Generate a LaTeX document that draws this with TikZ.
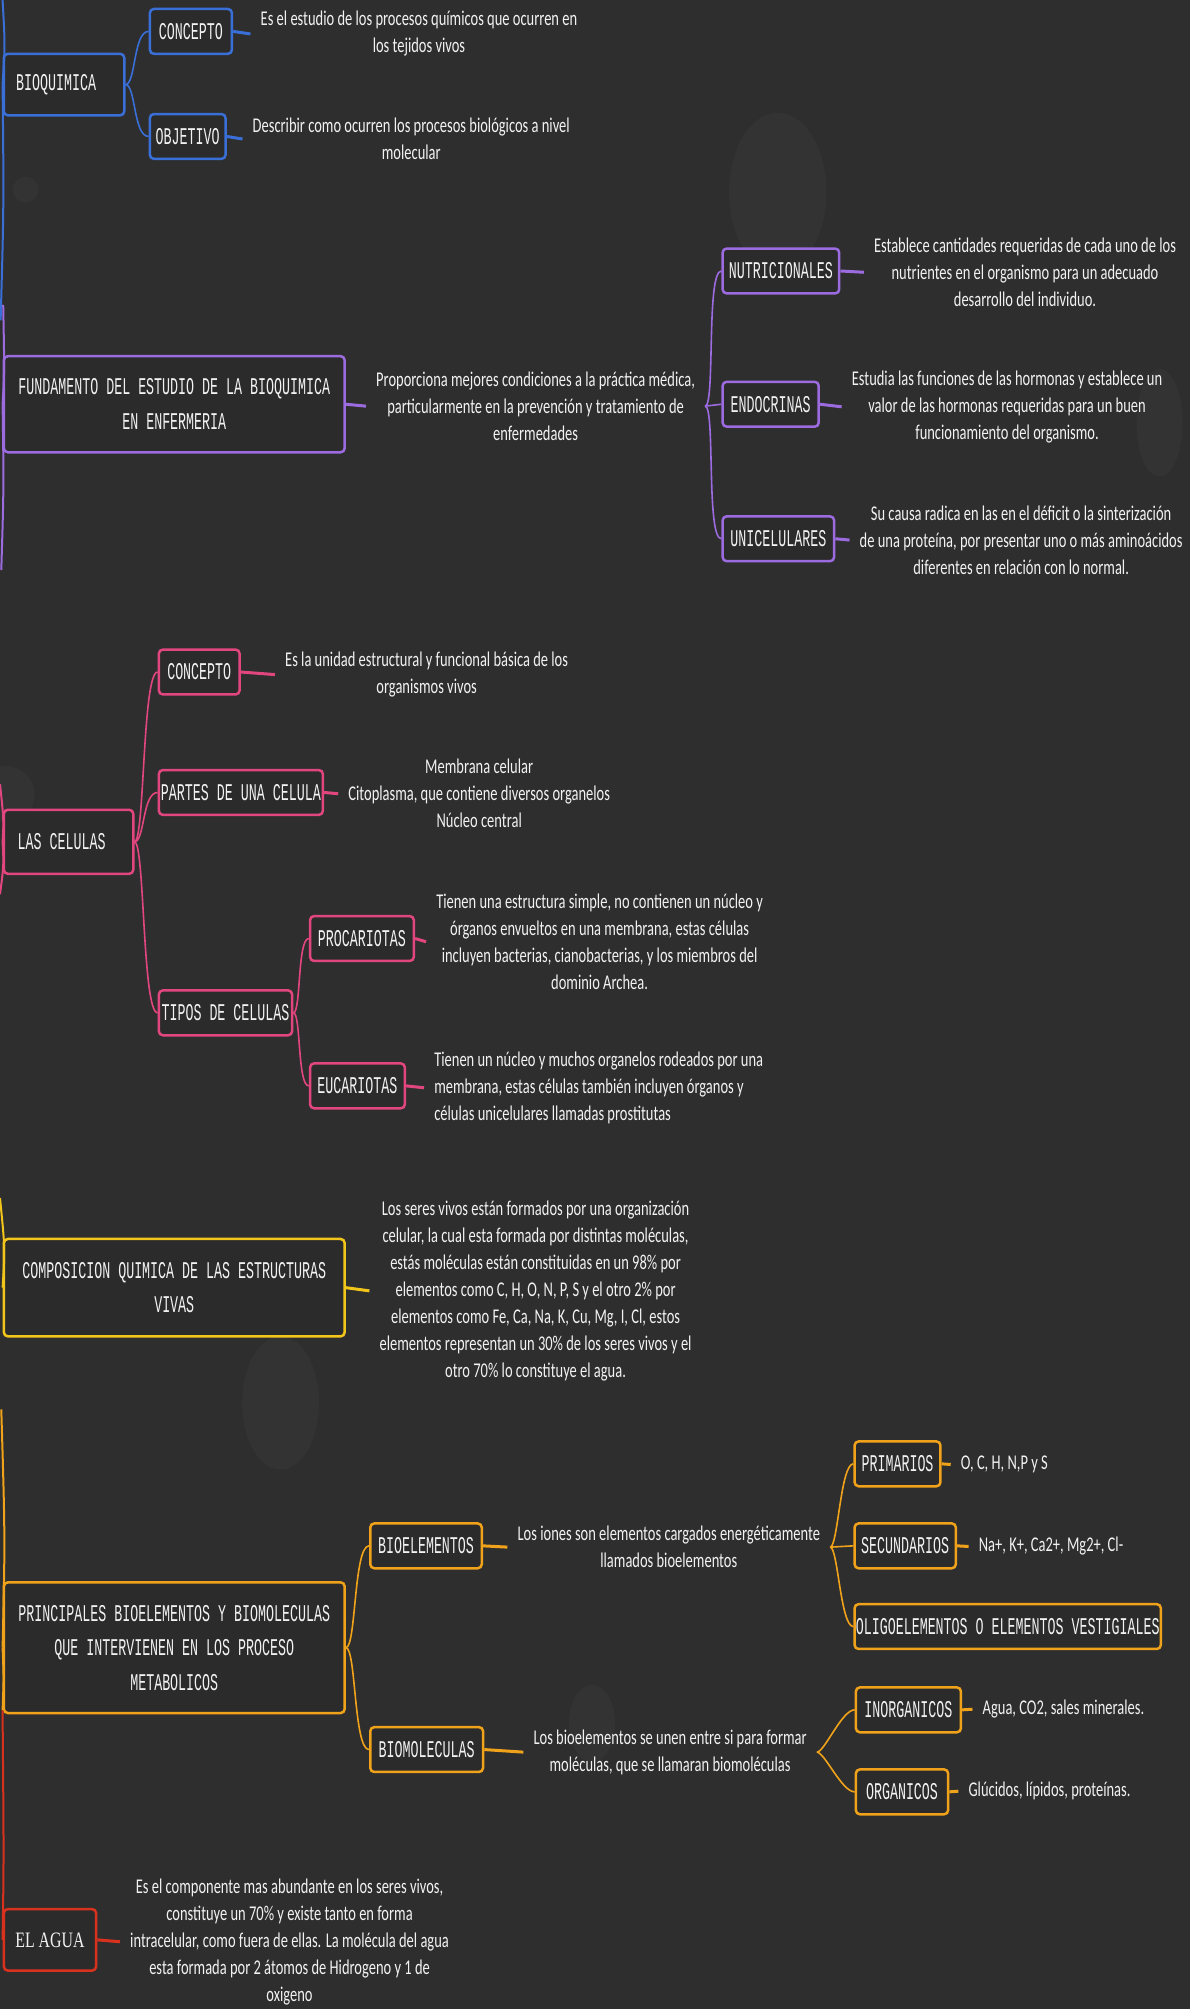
\documentclass[tikz,border=0pt]{standalone}
\usepackage{fontspec}
\setmainfont{Carlito}
\newfontfamily\descfont[FakeStretch=0.69]{Carlito}
\newfontfamily\boxfont[FakeStretch=0.555]{Liberation Mono}
\newfontfamily\serffont[FakeStretch=0.72]{Liberation Serif}
\definecolor{bgc}{HTML}{2E2E2E}
\definecolor{boxbg}{HTML}{2B2B2B}
\definecolor{blobc}{HTML}{333333}
\definecolor{cblue}{HTML}{3A6FD8}
\definecolor{cpurp}{HTML}{9C6BE0}
\definecolor{cpink}{HTML}{E2467E}
\definecolor{cyell}{HTML}{F2C51B}
\definecolor{corng}{HTML}{F0A21A}
\definecolor{cred}{HTML}{D8321F}
\definecolor{txt}{HTML}{F2F2F2}
\newcommand\bx[7]{%
  \pgfmathsetmacro\bxw{(#5-#3)*1.281}%
  \pgfmathsetmacro\bxh{(#6-#4)*1.281}%
  \node[#2, minimum width=\bxw pt, minimum height=\bxh pt] (#1) at ({(#3+#5)/2},{(#4+#6)/2}) {#7};}
\tikzset{
  box/.style={draw, line width=2.5pt, rounded corners=4pt, fill=boxbg, text=txt,
    font=\boxfont\fontsize{24}{34.6}\selectfont, align=center, inner sep=0pt},
  desc/.style={text=txt, font=\descfont\fontsize{21}{27}\selectfont, align=center,
    inner xsep=10pt, inner ysep=0pt},
  stub/.style={line width=3pt},
  br/.style={line width=1.6pt},
  trunk/.style={line width=2pt},
  blob/.style={fill=blobc}
}
\begin{document}
\begin{tikzpicture}[x=1.281pt,y=-1.281pt]
\fill[bgc] (0,0) rectangle (929,1568);
\useasboundingbox (0,0) rectangle (929,1568);
% faint background shapes
\fill[blob] (607,150) ellipse [x radius=38, y radius=62];
\fill[blob] (20,148) circle [radius=10];
\fill[blob] (905,330) ellipse [x radius=18, y radius=42];
\fill[blob] (5,620) circle [radius=22];
\fill[blob] (219,1095) ellipse [x radius=30, y radius=52];
\fill[blob] (44,1300) ellipse [x radius=18, y radius=30];
\fill[blob] (462,1345) ellipse [x radius=18, y radius=30];

% ---------- trunk coordinates ----------
\coordinate (tb0) at (2,0);
\coordinate (tb1) at (0.5,250);
\coordinate (tp0) at (2.5,238);
\coordinate (tp1) at (1,445);
\coordinate (tk0) at (0,612);
\coordinate (tk1) at (0,698);
\coordinate (ty0) at (0,935);
\coordinate (to0) at (1,1100);
\coordinate (to1) at (2,1335);

% ---------- BIOQUIMICA ----------
\bx{bio}{box,draw=cblue}{3}{42}{97}{90}{BIOQUIMICA\hspace*{16pt}}
\bx{bioc}{box,draw=cblue}{117}{7}{181}{42}{CONCEPTO}
\bx{bioo}{box,draw=cblue}{117}{89}{176}{124}{OBJETIVO}
\node[desc] (bioct) at (327,26.5) {Es el estudio de los procesos químicos que ocurren en\\los tejidos vivos};
\node[desc] (bioot) at (321,108.5) {Describir como ocurren los procesos biológicos a nivel\\molecular};
\draw[br,cblue] (bio.east) .. controls +(8,0) and +(-12,0) .. (bioc.west);
\draw[br,cblue] (bio.east) .. controls +(8,0) and +(-12,0) .. (bioo.west);
\draw[stub,cblue] (bioc.east) -- (bioct.west);
\draw[stub,cblue] (bioo.east) -- (bioot.west);

% ---------- FUNDAMENTO ----------
\bx{fund}{box,draw=cpurp}{3}{278}{269}{353}{FUNDAMENTO DEL ESTUDIO DE LA BIOQUIMICA\\EN ENFERMERIA}
\node[desc] (fundt) at (418,317) {Proporciona mejores condiciones a la práctica médica,\\particularmente en la prevención y tratamiento de\\enfermedades};
\draw[stub,cpurp] (fund.east) -- (fundt.west);
\bx{nut}{box,draw=cpurp}{564}{194}{655}{229}{NUTRICIONALES}
\bx{endo}{box,draw=cpurp}{564}{298}{639}{333}{ENDOCRINAS}
\bx{uni}{box,draw=cpurp}{564}{403}{651}{438}{UNICELULARES}
\draw[br,cpurp] (fundt.east) .. controls +(8,0) and +(-12,0) .. (nut.west);
\draw[br,cpurp] (fundt.east) -- (endo.west);
\draw[br,cpurp] (fundt.east) .. controls +(8,0) and +(-12,0) .. (uni.west);
\node[desc] (nutt) at (800,212.5) {Establece cantidades requeridas de cada uno de los\\nutrientes en el organismo para un adecuado\\desarrollo del individuo.};
\node[desc] (endot) at (786,317.5) {Estudia las funciones de las hormonas y establece un\\valor de las hormonas requeridas para un buen\\funcionamiento del organismo.};
\node[desc] (unit) at (797,421.5) {Su causa radica en las en el déficit o la sinterización\\de una proteína, por presentar uno o más aminoácidos\\diferentes en relación con lo normal.};
\draw[stub,cpurp] (nut.east) -- (nutt.west);
\draw[stub,cpurp] (endo.east) -- (endot.west);
\draw[stub,cpurp] (uni.east) -- (unit.west);

% ---------- LAS CELULAS ----------
\bx{cel}{box,draw=cpink}{3}{632}{104}{682}{LAS CELULAS\hspace*{14pt}}
\bx{celc}{box,draw=cpink}{124}{507}{187}{542}{CONCEPTO}
\bx{celp}{box,draw=cpink}{124}{601}{252}{636}{PARTES DE UNA CELULA}
\bx{celt}{box,draw=cpink}{124}{773}{228}{808}{TIPOS DE CELULAS}
\bx{pro}{box,draw=cpink}{242}{715}{323}{750}{PROCARIOTAS}
\bx{euc}{box,draw=cpink}{242}{830}{316}{865}{EUCARIOTAS}
\draw[br,cpink] (cel.east) .. controls +(8,0) and +(-12,0) .. (celc.west);
\draw[br,cpink] (cel.east) .. controls +(8,0) and +(-12,0) .. (celp.west);
\draw[br,cpink] (cel.east) .. controls +(8,0) and +(-12,0) .. (celt.west);
\draw[br,cpink] (celt.east) .. controls +(6,0) and +(-9,0) .. (pro.west);
\draw[br,cpink] (celt.east) .. controls +(6,0) and +(-9,0) .. (euc.west);
\node[desc] (celct) at (333,526.5) {Es la unidad estructural y funcional básica de los\\organismos vivos};
\node[desc] (celpt) at (374,619.5) {Membrana celular\\Citoplasma, que contiene diversos organelos\\Núcleo central};
\node[desc] (prot) at (468,735) {Tienen una estructura simple, no contienen un núcleo y\\órganos envueltos en una membrana, estas células\\incluyen bacterias, cianobacterias, y los miembros del\\dominio Archea.};
\node[desc, align=left, anchor=west] (euct) at (331,849) {Tienen un núcleo y muchos organelos rodeados por una\\membrana, estas células también incluyen órganos y\\células unicelulares llamadas prostitutas};
\draw[stub,cpink] (celc.east) -- (celct.west);
\draw[stub,cpink] (celp.east) -- (celpt.west);
\draw[stub,cpink] (pro.east) -- (prot.west);
\draw[stub,cpink] (euc.east) -- (euct.west);

% ---------- COMPOSICION ----------
\bx{comp}{box,draw=cyell}{3}{967}{269}{1043}{COMPOSICION QUIMICA DE LAS ESTRUCTURAS\\VIVAS}
\node[desc] (compt) at (418,1007.5) {Los seres vivos están formados por una organización\\celular, la cual esta formada por distintas moléculas,\\estás moléculas están constituidas en un 98\% por\\elementos como C, H, O, N, P, S y el otro 2\% por\\elementos como Fe, Ca, Na, K, Cu, Mg, I, Cl, estos\\elementos representan un 30\% de los seres vivos y el\\otro 70\% lo constituye el agua.};
\draw[stub,cyell] (comp.east) -- (compt.west);

% ---------- PRINCIPALES ----------
\bx{prin}{box,draw=corng}{3}{1235}{269}{1337}{PRINCIPALES BIOELEMENTOS Y BIOMOLECULAS\\QUE INTERVIENEN EN LOS PROCESO\\METABOLICOS}
\bx{bioe}{box,draw=corng}{289}{1189}{376}{1224}{BIOELEMENTOS}
\bx{biom}{box,draw=corng}{289}{1348}{377}{1383}{BIOMOLECULAS}
\draw[br,corng] (prin.east) .. controls +(8,0) and +(-12,0) .. (bioe.west);
\draw[br,corng] (prin.east) .. controls +(8,0) and +(-12,0) .. (biom.west);
\node[desc] (bioet) at (522,1207.5) {Los iones son elementos cargados energéticamente\\llamados bioelementos};
\node[desc] (biomt) at (523,1367.5) {Los bioelementos se unen entre si para formar\\moléculas, que se llamaran biomoléculas};
\draw[stub,corng] (bioe.east) -- (bioet.west);
\draw[stub,corng] (biom.east) -- (biomt.west);
\bx{prim}{box,draw=corng}{667}{1125}{734}{1160}{PRIMARIOS}
\bx{secu}{box,draw=corng}{667}{1189}{746}{1224}{SECUNDARIOS}
\bx{olig}{box,draw=corng}{667}{1252}{906}{1287}{OLIGOELEMENTOS O ELEMENTOS VESTIGIALES}
\bx{inor}{box,draw=corng}{668}{1317}{750}{1352}{INORGANICOS}
\bx{orga}{box,draw=corng}{668}{1381}{740}{1416}{ORGANICOS}
\draw[br,corng] (bioet.east) .. controls +(6,0) and +(-10,0) .. (prim.west);
\draw[br,corng] (bioet.east) -- (secu.west);
\draw[br,corng] (bioet.east) .. controls +(6,0) and +(-10,0) .. (olig.west);
\draw[br,corng] (biomt.east) .. controls +(6,0) and +(-10,0) .. (inor.west);
\draw[br,corng] (biomt.east) .. controls +(6,0) and +(-10,0) .. (orga.west);
\node[desc, anchor=west] (primt) at (742,1143) {O, C, H, N,P y S};
\node[desc, anchor=west] (secut) at (756,1207) {Na+, K+, Ca2+, Mg2+, Cl-};
\node[desc, anchor=west] (inort) at (759,1334) {Agua, CO2, sales minerales.};
\node[desc, anchor=west] (orgat) at (748,1398) {Glúcidos, lípidos, proteínas.};
\draw[stub,corng] (prim.east) -- (primt.west);
\draw[stub,corng] (secu.east) -- (secut.west);
\draw[stub,corng] (inor.east) -- (inort.west);
\draw[stub,corng] (orga.east) -- (orgat.west);

% ---------- EL AGUA ----------
\bx{agua}{box,draw=cred}{3}{1490}{75}{1538}{\serffont\fontsize{22}{26}\selectfont EL AGUA}
\node[desc] (aguat) at (226,1515.5) {Es el componente mas abundante en los seres vivos,\\constituye un 70\% y existe tanto en forma\\intracelular, como fuera de ellas. La molécula del agua\\esta formada por 2 átomos de Hidrogeno y 1 de\\oxigeno};
\draw[stub,cred] (agua.east) -- (aguat.west);

% ---------- trunk lines on the left edge ----------
\draw[trunk,cblue] (tb0) .. controls (4,35) .. (bio.west);
\draw[trunk,cblue] (bio.west) .. controls (3,160) .. (tb1);
\draw[trunk,cpurp] (tp0) .. controls (3.5,290) .. (fund.west);
\draw[trunk,cpurp] (fund.west) .. controls (3,380) .. (tp1);
\draw[trunk,cpink] (tk0) .. controls (3,640) .. (cel.west);
\draw[trunk,cpink] (cel.west) .. controls (3,675) .. (tk1);
\draw[trunk,cyell] (ty0) .. controls (4,975) .. (comp.west);
\draw[trunk,corng] (to0) .. controls (4,1200) .. (prin.west);
\draw[trunk,corng] (prin.west) .. controls (3,1310) .. (to1);
\draw[trunk,cred] (to1) .. controls (3,1450) .. (agua.west);
\end{tikzpicture}
\end{document}
